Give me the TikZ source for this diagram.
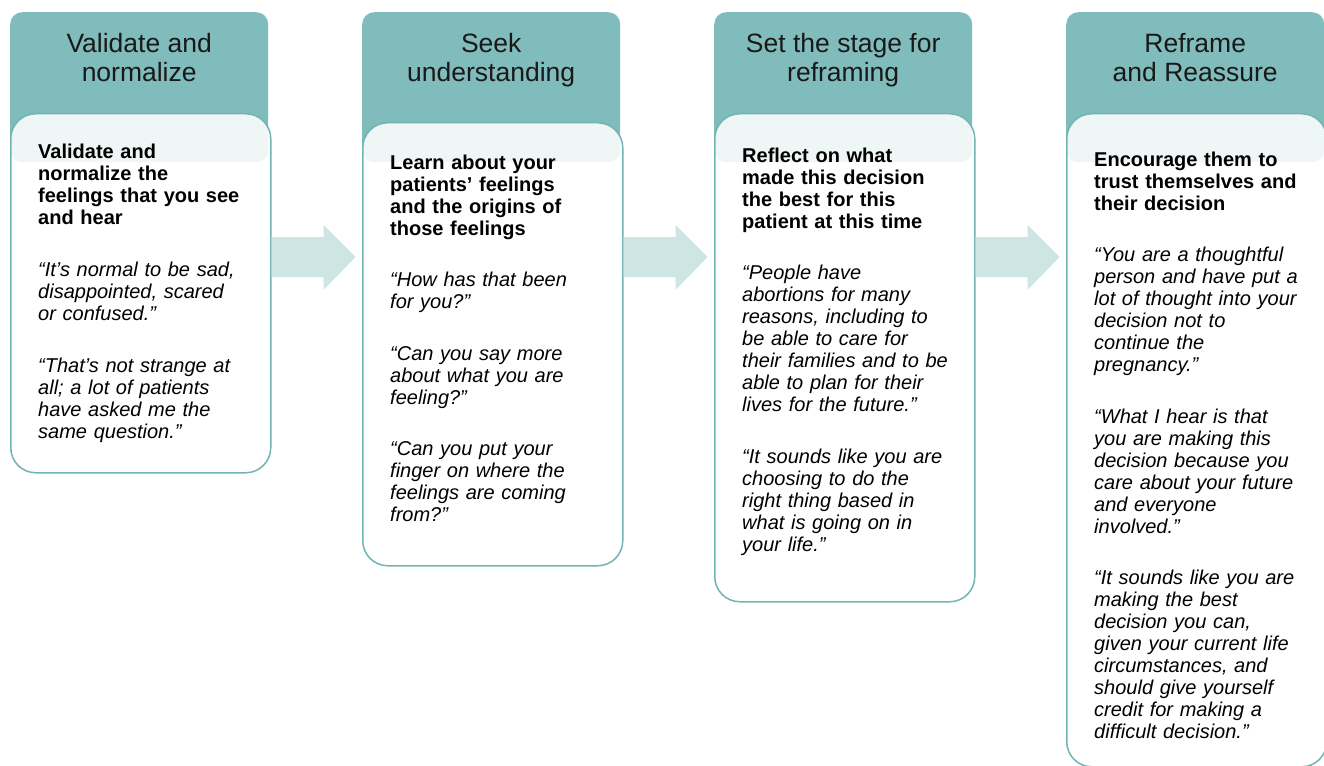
\documentclass[tikz,border=0pt]{standalone}
\usepackage{fontspec}
\setmainfont{Liberation Sans}
\usepackage{tikz}
\usetikzlibrary{positioning}
\usetikzlibrary{calc}
\definecolor{headteal}{HTML}{80BCBB}
\definecolor{cardline}{HTML}{72B4B1}
\definecolor{arrowfill}{HTML}{CDE6E3}
\tikzset{head node/.style={fill=headteal,draw=none,rounded corners=12pt,minimum width=258pt,minimum height=150pt,inner sep=0pt,anchor=north west},
	card node/.style={draw=cardline,line width=1.5pt,fill=white,fill opacity=0.88,rounded corners=25pt,minimum width=260pt,inner sep=0pt,anchor=north west},
	title node/.style={anchor=base,align=center,inner sep=0pt,text=black!90,font=\fontsize{26.5}{29}\selectfont},
	body node/.style={anchor=base west,text width=232pt,align=left,inner sep=0pt,font=\fontsize{20}{22}\selectfont},
	step arrow/.style={fill=arrowfill,draw=none},}

\begin{document}
\begin{tikzpicture}[x=1pt, y=-1pt]
		\useasboundingbox (0,0) rectangle (1324,765);
		\coordinate (mid) at (0,237);

		\node[head node] (h1) at (10,12) {};
		\node[head node] (h2) at (362,12) {};
		\node[head node] (h3) at (714,12) {};
		\node[head node] (h4) at (1066,12) {};

		\node[title node] (t1) at ($(h1.north)+(0,70)$) {Validate and\\normalize};
		\node[title node] (t2) at ($(h2.north)+(0,70)$) {Seek\\understanding};
		\node[title node] (t3) at ($(h3.north)+(0,70)$) {Set the stage for\\reframing};
		\node[title node] (t4) at ($(h4.north)+(0,70)$) {Reframe\\and Reassure};

		\node[card node, minimum height=359pt] (c1) at (10,113) {};
		\node[card node, minimum height=443pt] (c2) at (362,122) {};
		\node[card node, minimum height=488pt] (c3) at (714,113) {};
		\node[card node, minimum height=653pt] (c4) at (1066,113) {};

		% arrows between the cards
		\foreach \a in {c1,c2,c3}
			\fill[step arrow] (\a.east |- mid) -- ++(52,0) -- ++(0,-12) -- ++(32,32) -- ++(-32,33) -- ++(0,-13) -- ++(-52,0) -- cycle;

		\node[body node] (b1) at (38,158) {\bfseries Validate and\\normalize the\\feelings that you see\\and hear\\[30pt]
			\normalfont\itshape “It’s normal to be sad,\\disappointed, scared\\or confused.”\\[30pt]
			“That’s not strange at\\all; a lot of patients\\have asked me the\\same question.”};
		\node[body node] (b2) at (390,169) {\bfseries Learn about your\\patients’ feelings\\and the origins of\\those feelings\\[29pt]
			\normalfont\itshape “How has that been\\for you?”\\[30pt]
			“Can you say more\\about what you are\\feeling?”\\[29pt]
			“Can you put your\\finger on where the\\feelings are coming\\from?”};
		\node[body node] (b3) at (742,162) {\bfseries Reflect on what\\made this decision\\the best for this\\patient at this time\\[29pt]
			\normalfont\itshape “People have\\abortions for many\\reasons, including to\\be able to care for\\their families and to be\\able to plan for their\\lives for the future.”\\[30pt]
			“It sounds like you are\\choosing to do the\\right thing based in\\what is going on in\\your life.”};
		\node[body node] (b4) at (1094,166) {\bfseries Encourage them to\\trust themselves and\\their decision\\[29pt]
			\normalfont\itshape “You are a thoughtful\\person and have put a\\lot of thought into your\\decision not to\\continue the\\pregnancy.”\\[30pt]
			“What I hear is that\\you are making this\\decision because you\\care about your future\\and everyone\\involved.”\\[29pt]
			“It sounds like you are\\making the best\\decision you can,\\given your current life\\circumstances, and\\should give yourself\\credit for making a\\difficult decision.”};
	\end{tikzpicture}
\end{document}
